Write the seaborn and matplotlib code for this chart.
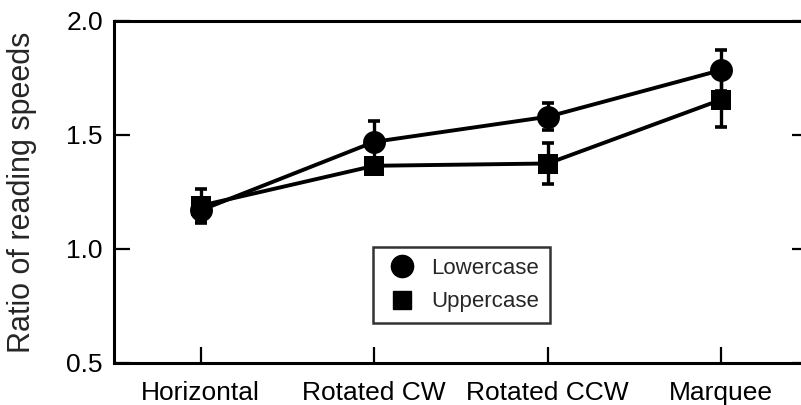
# Reading speed ratio by text orientation - lowercase vs uppercase

import pandas as pd
import matplotlib.pyplot as plt
import seaborn as sns
from matplotlib.lines import Line2D

# Data
conditions = ['Horizontal', 'Rotated CW', 'Rotated CCW', 'Marquee']
lower_mean = [1.17, 1.47, 1.58, 1.785]
lower_err = [0.05, 0.09, 0.06, 0.09]
upper_mean = [1.19, 1.365, 1.375, 1.655]
upper_err = [0.075, 0.035, 0.09, 0.12]

sns.set_style('ticks')
plt.rcParams['font.family'] = ['Liberation Sans', 'DejaVu Sans']

data = pd.DataFrame({
    'Condition': conditions * 2,
    'Ratio': lower_mean + upper_mean,
    'Case': ['Lowercase'] * 4 + ['Uppercase'] * 4,
})

fig = plt.figure(figsize=(8.01, 4.05), dpi=100)
ax = fig.add_axes([114 / 801, 42 / 405, 694 / 801, 342 / 405])

# error bars first, lines and markers on top
x = range(len(conditions))
ax.errorbar(x, upper_mean, yerr=upper_err, fmt='none', ecolor='black',
            elinewidth=2.4, capsize=4, capthick=2.6, zorder=2)
ax.errorbar(x, lower_mean, yerr=lower_err, fmt='none', ecolor='black',
            elinewidth=2.4, capsize=4, capthick=2.6, zorder=2)

sns.lineplot(data=data, x='Condition', y='Ratio', style='Case',
             markers={'Lowercase': 'o', 'Uppercase': 's'},
             dashes=False, color='black', linewidth=2.8,
             markersize=16.5, markeredgewidth=0, legend=False, ax=ax, zorder=3)
# square markers a bit smaller than circles
for line in ax.get_lines():
    if line.get_marker() == 's':
        line.set_markersize(14)

ax.set_xlim(-0.5, 3.5)
ax.set_ylim(0.5, 2.0)
ax.set_yticks([0.5, 1.0, 1.5, 2.0])
ax.set_yticklabels(['0.5', '1.0', '1.5', '2.0'])
ax.set_xticks(list(x))
ax.set_xticklabels(conditions)
ax.set_xlabel('')
ax.set_ylabel('Ratio of reading speeds', fontsize=22)
ax.yaxis.set_label_coords((37 - 114) / 694, 0.5)

for side in ['left', 'bottom', 'top', 'right']:
    ax.spines[side].set_visible(True)
    ax.spines[side].set_linewidth(2.2)
    ax.spines[side].set_color('black')

ax.tick_params(axis='both', direction='in', length=11.5, width=1.6,
               labelsize=19, colors='black', pad=8)
ax.tick_params(axis='x', pad=13)
ax.tick_params(axis='y', right=True, labelright=False)
ax.tick_params(axis='x', top=False)

handles = [
    Line2D([], [], color='black', marker='o', linestyle='none', markersize=16),
    Line2D([], [], color='black', marker='s', linestyle='none', markersize=13),
]
leg = ax.legend(handles, ['Lowercase', 'Uppercase'], loc='upper left',
                bbox_to_anchor=((373 - 114) / 694, (363 - 247) / 342),
                borderaxespad=0, fontsize=16, frameon=True, fancybox=False,
                edgecolor='black', borderpad=0.5, handletextpad=0.5,
                labelspacing=0.55, handlelength=1.6)
leg.get_frame().set_linewidth(1.8)

plt.savefig('out.png', dpi=100)
